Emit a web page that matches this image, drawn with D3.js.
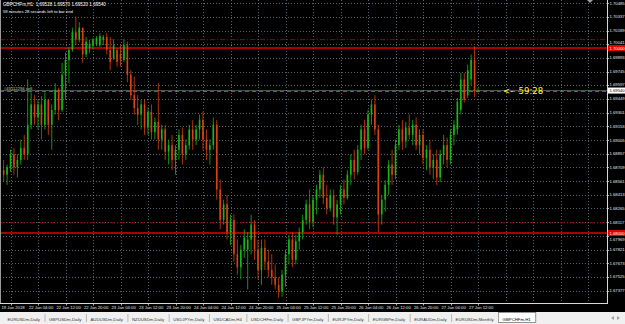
<!DOCTYPE html>
<html>
<head>
<meta charset="utf-8">
<script src="https://cdnjs.cloudflare.com/ajax/libs/d3/7.8.5/d3.min.js"></script>
<style>
  body { margin: 0; background: #000; overflow: hidden; }
  svg { display: block; }
  text { font-family: "Liberation Sans", Arial, sans-serif; }
</style>
</head>
<body>
<svg id="chart" width="625" height="324"></svg>
<script>
// chart header
var symbolTitle = "GBPCHFm,H1  1.69528 1.69570 1.69520 1.69540";
var timerText = "59 minutes 28 seconds left to bar end";
var countdown = "<-  59:28";

// H1 candles, oldest first
var opens = [
  1.6868, 1.6863, 1.6871, 1.6885, 1.6871, 1.6879, 1.6892, 1.6885, 1.6917, 1.6939,
  1.6925, 1.6939, 1.6917, 1.6944, 1.6917, 1.6933, 1.6955, 1.6933, 1.6971, 1.6987,
  1.6998, 1.7017, 1.7009, 1.7022, 1.6993, 1.7000, 1.7002, 1.7004, 1.7003, 1.7009,
  1.7012, 1.6998, 1.6989, 1.6998, 1.6993, 1.6987, 1.7003, 1.6971, 1.6949, 1.6935,
  1.6928, 1.6939, 1.6914, 1.6931, 1.6909, 1.6920, 1.6901, 1.6912, 1.6888, 1.6895,
  1.6879, 1.6890, 1.6906, 1.6885, 1.6895, 1.6912, 1.6901, 1.6912, 1.6922, 1.6901,
  1.6890, 1.6895, 1.6917, 1.6847, 1.6814, 1.6831, 1.6801, 1.6814, 1.6777, 1.6763,
  1.6782, 1.6782, 1.6793, 1.6809, 1.6782, 1.6760, 1.6784, 1.6769, 1.6760, 1.6752,
  1.6744, 1.6737, 1.6755, 1.6777, 1.6793, 1.6771, 1.6791, 1.6801, 1.6814, 1.6831,
  1.6812, 1.6836, 1.6847, 1.6863, 1.6838, 1.6827, 1.6841, 1.6817, 1.6831, 1.6847,
  1.6838, 1.6863, 1.6879, 1.6866, 1.6890, 1.6912, 1.6892, 1.6928, 1.6939, 1.6912,
  1.6820, 1.6836, 1.6852, 1.6874, 1.6863, 1.6895, 1.6912, 1.6899, 1.6914, 1.6906,
  1.6917, 1.6895, 1.6906, 1.6881, 1.6890, 1.6871, 1.6879, 1.6860, 1.6885, 1.6895,
  1.6879, 1.6906, 1.6912, 1.6933, 1.6966, 1.6949, 1.6966, 1.6987, 1.69528
];
var highs = [
  1.6879, 1.6874, 1.6890, 1.6892, 1.6885, 1.6901, 1.6906, 1.6966, 1.6952, 1.6949,
  1.6944, 1.6948, 1.6952, 1.6945, 1.6939, 1.6962, 1.6957, 1.6984, 1.6995, 1.7001,
  1.7022, 1.7034, 1.7028, 1.7022, 1.7012, 1.7009, 1.7011, 1.7013, 1.7016, 1.7014,
  1.7016, 1.7012, 1.7009, 1.7000, 1.7003, 1.7009, 1.7007, 1.6976, 1.6969, 1.6949,
  1.6944, 1.6944, 1.6936, 1.6939, 1.6925, 1.6962, 1.6917, 1.6917, 1.6901, 1.6906,
  1.6895, 1.6912, 1.6914, 1.6901, 1.6917, 1.6922, 1.6917, 1.6928, 1.6931, 1.6912,
  1.6901, 1.6925, 1.6922, 1.6858, 1.6836, 1.6841, 1.6820, 1.6820, 1.6793, 1.6787,
  1.6804, 1.6801, 1.6820, 1.6814, 1.6793, 1.6793, 1.6793, 1.6782, 1.6777, 1.6766,
  1.6752, 1.6760, 1.6782, 1.6798, 1.6801, 1.6798, 1.6806, 1.6820, 1.6836, 1.6847,
  1.6841, 1.6852, 1.6868, 1.6871, 1.6852, 1.6847, 1.6847, 1.6836, 1.6852, 1.6858,
  1.6868, 1.6885, 1.6890, 1.6895, 1.6917, 1.6922, 1.6933, 1.6944, 1.6949, 1.6917,
  1.6841, 1.6857, 1.6879, 1.6890, 1.6901, 1.6917, 1.6922, 1.6920, 1.6928, 1.6922,
  1.6925, 1.6912, 1.6912, 1.6895, 1.6901, 1.6885, 1.6890, 1.6890, 1.6906, 1.6903,
  1.6912, 1.6922, 1.6946, 1.6973, 1.6973, 1.6982, 1.6993, 1.7002, 1.69570
];
var lows = [
  1.6855, 1.6852, 1.6866, 1.6863, 1.6860, 1.6874, 1.6879, 1.6879, 1.6912, 1.6917,
  1.6912, 1.6901, 1.6912, 1.6906, 1.6890, 1.6928, 1.6922, 1.6931, 1.6944, 1.6962,
  1.6996, 1.7003, 1.7006, 1.6984, 1.6990, 1.6995, 1.6998, 1.7002, 1.7001, 1.7003,
  1.6993, 1.6976, 1.6987, 1.6980, 1.6980, 1.6985, 1.6963, 1.6944, 1.6928, 1.6917,
  1.6912, 1.6906, 1.6906, 1.6901, 1.6901, 1.6890, 1.6890, 1.6879, 1.6874, 1.6868,
  1.6863, 1.6879, 1.6874, 1.6879, 1.6890, 1.6890, 1.6895, 1.6901, 1.6890, 1.6879,
  1.6874, 1.6890, 1.6836, 1.6804, 1.6809, 1.6793, 1.6787, 1.6769, 1.6755, 1.6750,
  1.6773, 1.6739, 1.6777, 1.6771, 1.6750, 1.6744, 1.6760, 1.6752, 1.6744, 1.6739,
  1.6730, 1.6731, 1.6742, 1.6766, 1.6763, 1.6766, 1.6782, 1.6793, 1.6809, 1.6804,
  1.6806, 1.6820, 1.6838, 1.6831, 1.6820, 1.6823, 1.6809, 1.6798, 1.6820, 1.6831,
  1.6836, 1.6852, 1.6858, 1.6863, 1.6879, 1.6885, 1.6890, 1.6917, 1.6906, 1.6801,
  1.6809, 1.6823, 1.6841, 1.6852, 1.6858, 1.6890, 1.6890, 1.6892, 1.6901, 1.6895,
  1.6890, 1.6885, 1.6874, 1.6868, 1.6863, 1.6858, 1.6852, 1.6855, 1.6874, 1.6871,
  1.6874, 1.6895, 1.6906, 1.6928, 1.6941, 1.6946, 1.6960, 1.6947, 1.69520
];
var closes = [
  1.6863, 1.6871, 1.6885, 1.6871, 1.6879, 1.6892, 1.6885, 1.6917, 1.6939, 1.6925,
  1.6939, 1.6917, 1.6944, 1.6917, 1.6933, 1.6955, 1.6933, 1.6971, 1.6987, 1.6998,
  1.7017, 1.7009, 1.7022, 1.6993, 1.7007, 1.7004, 1.7009, 1.7011, 1.7013, 1.7012,
  1.6998, 1.6985, 1.7003, 1.6985, 1.6987, 1.7003, 1.6971, 1.6949, 1.6935, 1.6928,
  1.6939, 1.6914, 1.6931, 1.6909, 1.6920, 1.6901, 1.6912, 1.6888, 1.6895, 1.6879,
  1.6890, 1.6906, 1.6885, 1.6895, 1.6912, 1.6901, 1.6912, 1.6922, 1.6901, 1.6890,
  1.6895, 1.6917, 1.6847, 1.6814, 1.6831, 1.6801, 1.6814, 1.6777, 1.6763, 1.6782,
  1.6795, 1.6793, 1.6809, 1.6782, 1.6760, 1.6784, 1.6769, 1.6760, 1.6752, 1.6744,
  1.6737, 1.6755, 1.6777, 1.6793, 1.6771, 1.6791, 1.6801, 1.6814, 1.6831, 1.6812,
  1.6836, 1.6847, 1.6863, 1.6838, 1.6827, 1.6841, 1.6817, 1.6831, 1.6847, 1.6838,
  1.6863, 1.6879, 1.6866, 1.6890, 1.6912, 1.6892, 1.6928, 1.6939, 1.6912, 1.6820,
  1.6836, 1.6852, 1.6874, 1.6863, 1.6895, 1.6912, 1.6899, 1.6914, 1.6906, 1.6917,
  1.6895, 1.6906, 1.6881, 1.6890, 1.6871, 1.6879, 1.6860, 1.6885, 1.6895, 1.6879,
  1.6906, 1.6917, 1.6942, 1.6966, 1.6944, 1.6976, 1.6987, 1.6953, 1.69540
];

// time separators every 8 bars, first one on bar 2
var timeLabels = [
  "19 Jan 2018", "22 Jan 04:00", "22 Jan 12:00", "22 Jan 20:00", "23 Jan 04:00", "23 Jan 12:00",
  "23 Jan 20:00", "24 Jan 04:00", "24 Jan 12:00", "24 Jan 20:00", "25 Jan 04:00", "25 Jan 12:00",
  "25 Jan 20:00", "26 Jan 04:00", "26 Jan 12:00", "26 Jan 20:00", "27 Jan 04:00", "27 Jan 12:00"
];

var priceTicks = [
  "1.70485", "1.70337", "1.70189", "1.70041", "1.69893", "1.69745", "1.69597", "1.69449",
  "1.69301", "1.69153", "1.69005", "1.68857", "1.68709", "1.68561", "1.68413", "1.68265",
  "1.68117", "1.67969", "1.67821", "1.67673", "1.67525", "1.67377"
];

// horizontal levels
var alertLevels = [1.70000, 1.68000];
var stopLevels = [1.70090, 1.68110];
var orderPrice = 1.69530;
var orderLabel = "#45112294 sell";
var bidPrice = 1.69540;

var tabs = [
  "EURUSDm,Daily", "GBPUSDm,Daily", "AUDUSDm,Daily", "NZDUSDm,Daily", "USDJPYm,Daily",
  "USDCADm,H4", "USDCHFm,Daily", "GBPJPYm,Daily", "EURJPYm,Daily", "EURGBPm,Daily",
  "EURAUDm,Daily", "EURUSDm,Monthly", "GBPCHFm,H1"
];
var activeTab = "GBPCHFm,H1";

var width = 625, height = 324;
var plotRight = 607, plotBottom = 303;
var barStep = 3.4375;
var lastBarX = 478;
var bullColor = "#14b914", bearColor = "#d8420f";
var gridColor = "#6e7e8e";
var smallFont = 4.2;

var svg = d3.select("#chart");
svg.append("rect").attr("width", width).attr("height", height).attr("fill", "#000");

var n = closes.length;
var x = d3.scaleLinear().domain([0, n - 1]).range([lastBarX - (n - 1) * barStep, lastBarX]);
var y = d3.scaleLinear().domain([1.68, 1.70]).range([233, 48]);

var plot = svg.append("g");

// grid - horizontal at price ticks
plot.selectAll(".hgrid").data(priceTicks).enter().append("line")
  .attr("x1", 0).attr("x2", plotRight)
  .attr("y1", function(d) { return Math.round(y(+d)) + 0.5; })
  .attr("y2", function(d) { return Math.round(y(+d)) + 0.5; })
  .attr("stroke", gridColor).attr("stroke-width", 0.8).attr("stroke-dasharray", "1,2");

// grid - vertical every 8 bars, carried on into the shift area
var sepIndex = d3.range(2, n + 40, 8).filter(function(i) { return x(i) < plotRight - 5; });
plot.selectAll(".vgrid").data(sepIndex).enter().append("line")
  .attr("y1", 0).attr("y2", plotBottom)
  .attr("x1", function(i) { return Math.round(x(i)) + 0.5; })
  .attr("x2", function(i) { return Math.round(x(i)) + 0.5; })
  .attr("stroke", gridColor).attr("stroke-width", 0.8).attr("stroke-dasharray", "1,2");

// stop levels (dash dot)
plot.selectAll(".stop").data(stopLevels).enter().append("line")
  .attr("x1", 0).attr("x2", plotRight)
  .attr("y1", function(d) { return y(d); }).attr("y2", function(d) { return y(d); })
  .attr("stroke", "#8b0a0a").attr("stroke-width", 1).attr("stroke-dasharray", "5,2,1,2");

// alert levels (solid red)
plot.selectAll(".alert").data(alertLevels).enter().append("line")
  .attr("x1", 0).attr("x2", plotRight)
  .attr("y1", function(d) { return y(d); }).attr("y2", function(d) { return y(d); })
  .attr("stroke", "#e00000").attr("stroke-width", 1.4);

// bid line
plot.append("line").attr("x1", 0).attr("x2", plotRight)
  .attr("y1", y(bidPrice)).attr("y2", y(bidPrice))
  .attr("stroke", "#8a8a8a").attr("stroke-width", 0.6);

// order line
plot.append("line").attr("x1", 0).attr("x2", plotRight)
  .attr("y1", y(orderPrice)).attr("y2", y(orderPrice))
  .attr("stroke", "#10a010").attr("stroke-width", 1).attr("stroke-dasharray", "4,3");
plot.append("text").attr("x", 4).attr("y", y(orderPrice) - 1.8)
  .attr("font-size", smallFont).attr("fill", "#c8c8c8").text(orderLabel);

// candles
var candles = plot.selectAll(".candle").data(d3.range(n)).enter().append("g");
candles.append("line")
  .attr("x1", function(i) { return x(i); }).attr("x2", function(i) { return x(i); })
  .attr("y1", function(i) { return y(highs[i]); }).attr("y2", function(i) { return y(lows[i]); })
  .attr("stroke", function(i) { return closes[i] >= opens[i] ? bullColor : bearColor; })
  .attr("stroke-width", 0.8);
candles.append("rect")
  .attr("x", function(i) { return x(i) - 0.8; }).attr("width", 1.6)
  .attr("y", function(i) { return y(Math.max(opens[i], closes[i])); })
  .attr("height", function(i) { return Math.max(0.8, Math.abs(y(opens[i]) - y(closes[i]))); })
  .attr("fill", function(i) { return closes[i] >= opens[i] ? bullColor : bearColor; });

// frame
svg.append("line").attr("x1", plotRight + 0.5).attr("x2", plotRight + 0.5).attr("y1", 0).attr("y2", plotBottom)
  .attr("stroke", "#d8d8d8").attr("stroke-width", 1);
svg.append("line").attr("x1", 0).attr("x2", plotRight + 1).attr("y1", plotBottom + 0.5).attr("y2", plotBottom + 0.5)
  .attr("stroke", "#d8d8d8").attr("stroke-width", 1);
svg.append("line").attr("x1", 0.5).attr("x2", 0.5).attr("y1", 0).attr("y2", plotBottom)
  .attr("stroke", "#9a9a9a").attr("stroke-width", 1);

// chart shift marker
svg.append("path").attr("d", "M587,0 L593,0 L590,3 Z").attr("fill", "#a0a0a0");

// price axis; labels hidden under a coloured price box are nudged clear of it
var boxPrices = alertLevels.concat([bidPrice]);
function tickLabelY(d) {
  var ty = y(+d) + 1.5;
  boxPrices.forEach(function(p) {
    var dy = y(+d) - y(p);
    if (Math.abs(dy) < 6) ty = y(p) + (dy >= 0 ? 7.5 : -4.5);
  });
  return ty;
}
var pax = svg.append("g");
pax.selectAll("line").data(priceTicks).enter().append("line")
  .attr("x1", plotRight).attr("x2", plotRight + 2)
  .attr("y1", function(d) { return Math.round(y(+d)) + 0.5; })
  .attr("y2", function(d) { return Math.round(y(+d)) + 0.5; })
  .attr("stroke", "#d8d8d8").attr("stroke-width", 0.8);
pax.selectAll("text").data(priceTicks).enter().append("text")
  .attr("x", plotRight + 2.5).attr("y", tickLabelY)
  .attr("font-size", smallFont).attr("fill", "#e6e6e6").text(function(d) { return d; });

function priceBox(price, bg, fg) {
  var g = svg.append("g");
  g.append("rect").attr("x", plotRight + 1).attr("y", y(price) - 3).attr("width", width - plotRight - 1).attr("height", 6)
    .attr("fill", bg);
  g.append("text").attr("x", plotRight + 2.5).attr("y", y(price) + 1.5)
    .attr("font-size", smallFont).attr("fill", fg).text(price.toFixed(5));
}
alertLevels.forEach(function(p) { priceBox(p, "#e00000", "#ffffff"); });
priceBox(bidPrice, "#ffffff", "#000000");

// time axis
var tax = svg.append("g");
tax.selectAll("line").data(timeLabels).enter().append("line")
  .attr("x1", function(d, k) { return Math.round(x(sepIndex[k])) + 0.5; })
  .attr("x2", function(d, k) { return Math.round(x(sepIndex[k])) + 0.5; })
  .attr("y1", plotBottom).attr("y2", plotBottom + 2.5)
  .attr("stroke", "#d8d8d8").attr("stroke-width", 0.8);
tax.selectAll("text").data(timeLabels).enter().append("text")
  .attr("x", function(d, k) { return Math.max(1, x(sepIndex[k]) - 9); })
  .attr("y", 309)
  .attr("font-size", smallFont).attr("fill", "#e6e6e6").text(function(d) { return d; });

// header text
svg.append("text").attr("x", 3).attr("y", 6).attr("font-size", 4.6).attr("fill", "#ffffff")
  .attr("xml:space", "preserve").text(symbolTitle);
svg.append("text").attr("x", 3).attr("y", 12.5).attr("font-size", smallFont).attr("fill", "#ffffff").text(timerText);

// countdown next to price
svg.append("text").attr("x", 503).attr("y", y(bidPrice) + 3)
  .attr("font-size", 8.5).attr("fill", "#ffff00").attr("xml:space", "preserve")
  .style("font-family", "'DejaVu Sans', sans-serif").text(countdown);

// tab bar
var tabTop = 312;
svg.append("rect").attr("x", 0).attr("y", tabTop).attr("width", width).attr("height", height - tabTop).attr("fill", "#f0f0f0");
var tabG = svg.append("g");
var tx = 3;
tabs.forEach(function(name) {
  var active = name === activeTab;
  var t = tabG.append("text").attr("x", tx + 4.5).attr("y", 320.5)
    .attr("font-size", 4.3).attr("fill", active ? "#000" : "#333").text(name);
  var w = t.node().getComputedTextLength() + 9;
  if (active) {
    tabG.insert("rect", "text").attr("x", tx + 0.5).attr("y", tabTop + 0.5).attr("width", w).attr("height", 10)
      .attr("fill", "#ffffff").attr("stroke", "#7a7a7a").attr("stroke-width", 0.8);
  } else {
    tabG.append("line").attr("x1", tx + w + 0.5).attr("x2", tx + w + 0.5).attr("y1", tabTop + 2).attr("y2", tabTop + 10)
      .attr("stroke", "#a8a8a8").attr("stroke-width", 0.8);
  }
  tx += w;
});
// scroll arrows
tabG.append("path").attr("d", "M611,318 L614,316 L614,320 Z").attr("fill", "#a0a0a0");
tabG.append("path").attr("d", "M620,318 L617,316 L617,320 Z").attr("fill", "#a0a0a0");
</script>
</body>
</html>
